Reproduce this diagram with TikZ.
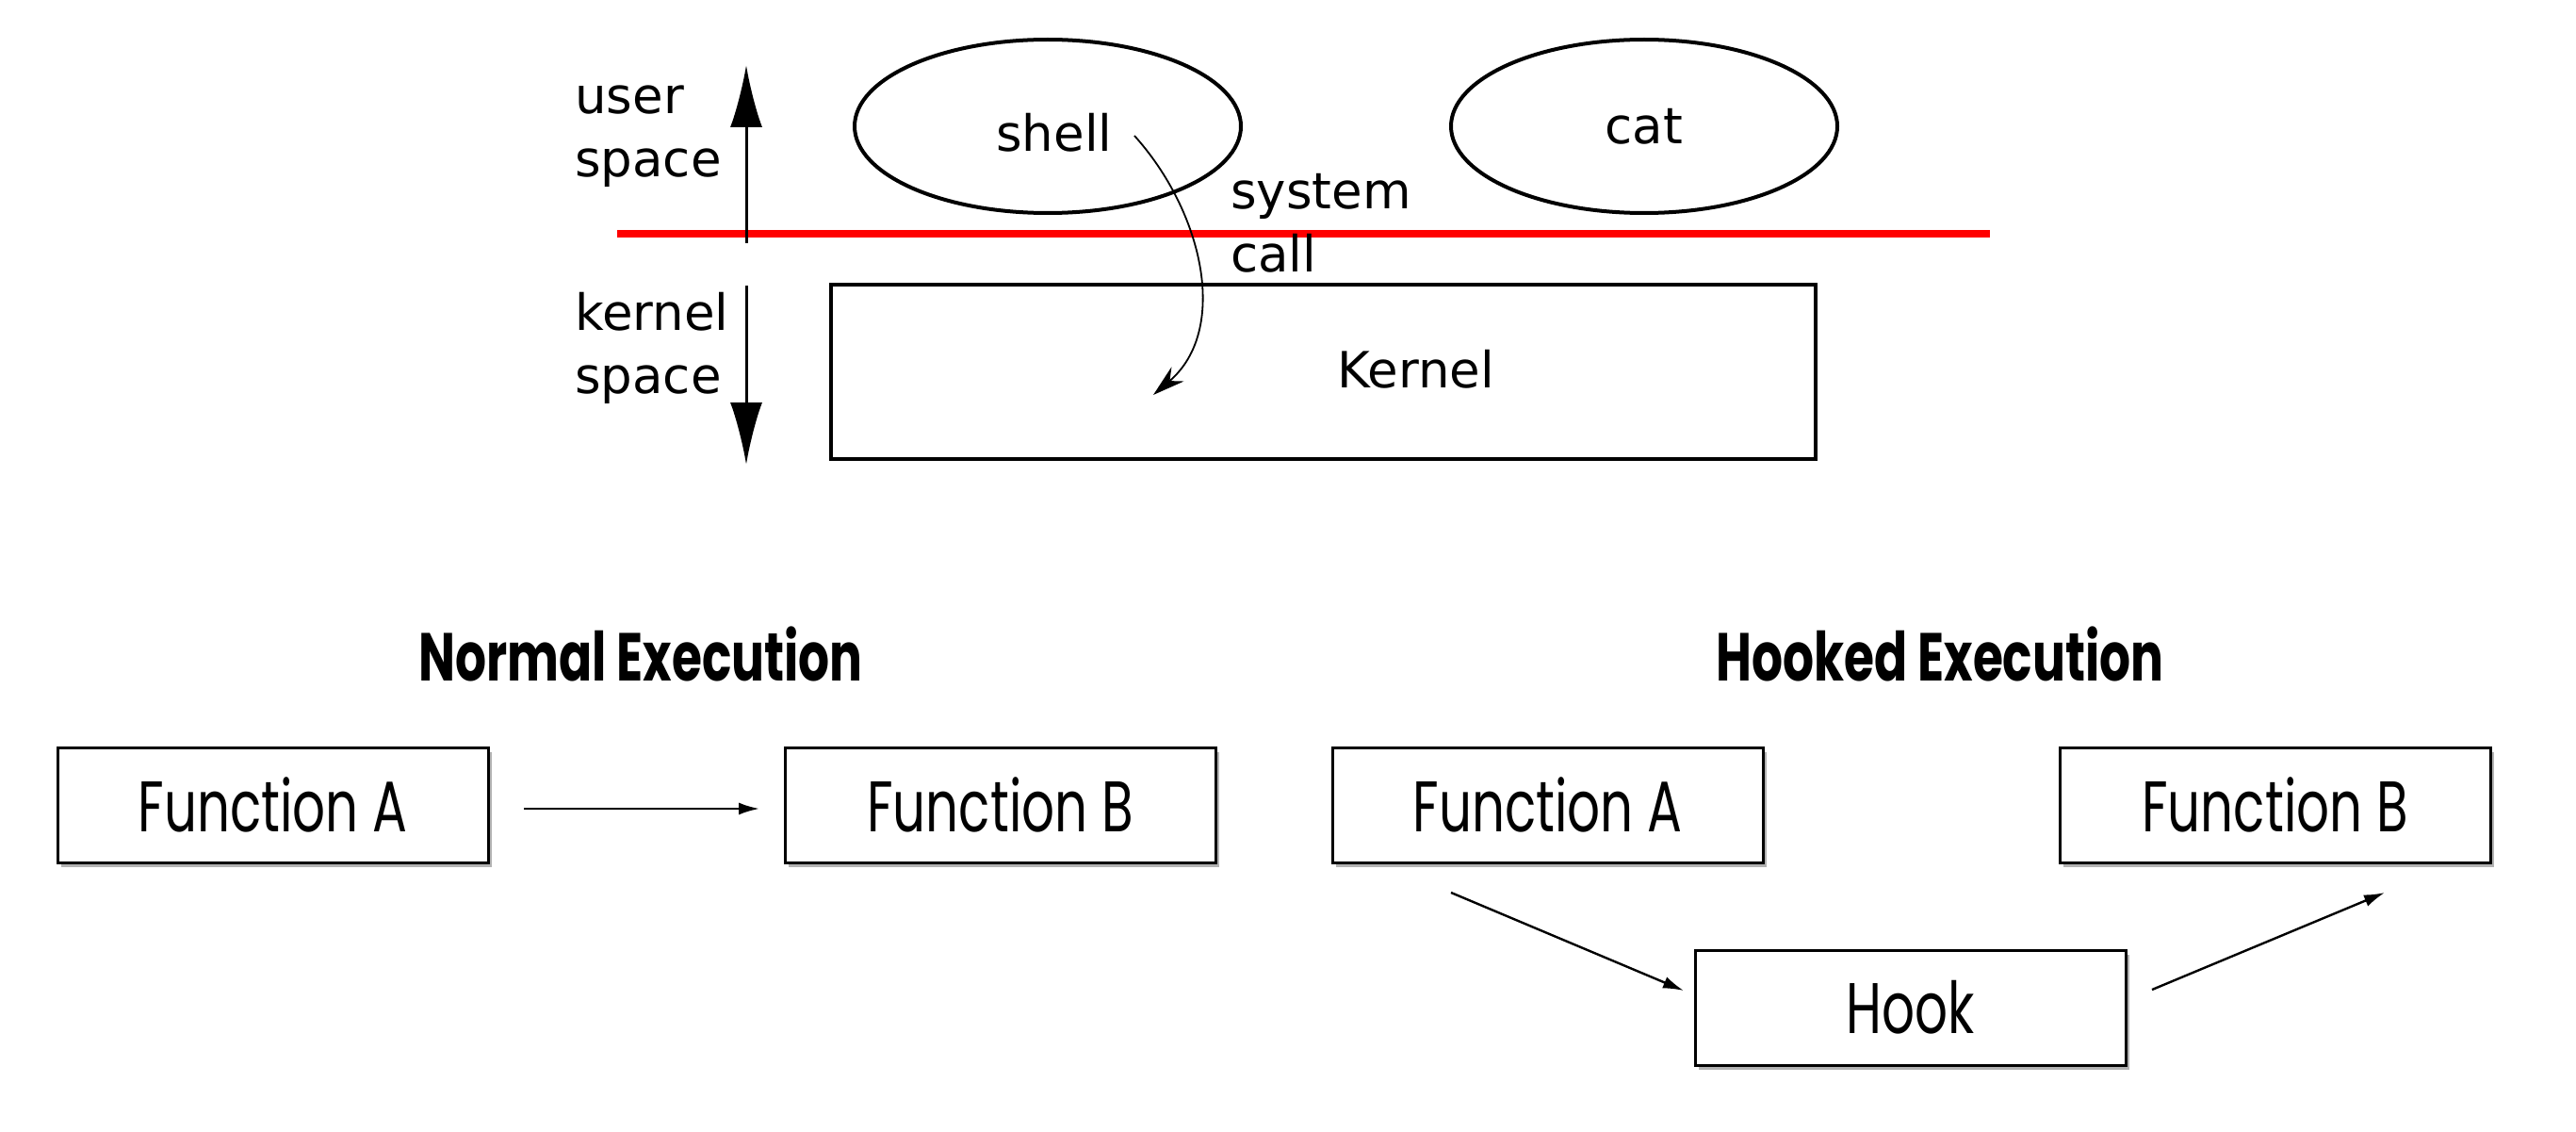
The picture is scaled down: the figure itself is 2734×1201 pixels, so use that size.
\documentclass[tikz,border=0pt]{standalone}
\usepackage{fontspec}
\setmainfont{DejaVu Sans}
\newfontfamily\fut[FakeStretch=0.72]{Poppins}
\usetikzlibrary{shapes.geometric,shadows,arrows.meta}
\begin{document}
\begin{tikzpicture}[x=1pt,y=-1pt,
  toptext/.style={font=\fontsize{53}{67}\selectfont, inner sep=0pt},
  ell/.style={ellipse, draw, line width=4pt, minimum width=410pt, minimum height=184pt, inner sep=0pt, font=\fontsize{53}{67}\selectfont},
  bigarrow/.style={line width=3pt, -{Latex[length=66pt,width=34pt]}},
  fbox/.style={draw, line width=3pt, minimum width=457pt, minimum height=122pt, inner sep=0pt, fill=white,
    drop shadow={shadow xshift=4pt, shadow yshift=-5pt, opacity=0.3, fill=black},
    font=\fut\fontsize{76}{90}\selectfont},
  heading/.style={font=\fut\bfseries\fontsize{72}{80}\selectfont, inner sep=0pt},
  conn/.style={line width=2.4pt, -{Latex[length=22pt,width=13pt]}}
]
\useasboundingbox (0,0) rectangle (2734,1201);

% ---------- top: user / kernel space ----------
\node[ell, text height=54pt, text depth=0pt] (shell) at (1112,134) {\hspace*{14pt}shell};
\node[ell] (cat) at (1745,134) {cat};
\node[draw, line width=4pt, minimum width=1045pt, minimum height=185pt, inner sep=0pt,
      text height=40pt, text depth=6pt,
      font=\fontsize{53}{67}\selectfont] (kernel) at (1404.5,394.5) {\hspace*{197pt}Kernel};

\coordinate (redL) at (655,248);
\coordinate (redR) at (2112,248);
\draw[red, line width=8pt] (redL) -- (redR);

\node[toptext, align=left, anchor=base west] (user) at (610,188) {user\\space};
\node[toptext, align=left, anchor=base west] (kspace) at (610,417) {kernel\\space};
\node[toptext, align=left, anchor=base west] (sys) at (1306,288) {system\\call};

\coordinate (upS) at (792,258);
\coordinate (upE) at (792,69);
\coordinate (dnS) at (792,303);
\coordinate (dnE) at (792,493);
\draw[bigarrow] (upS) -- (upE);
\draw[bigarrow] (dnS) -- (dnE);

\coordinate (scS) at (1204,144);
\coordinate (scE) at (1224,419);
\draw[line width=1.8pt, -{Stealth[length=34pt,width=20pt]}] (scS) .. controls (1277,225) and (1305,350) .. (scE);

% ---------- bottom: normal / hooked execution ----------
\node[heading] (hn) at (680,694) {Normal Execution};
\node[heading] (hh) at (2059,694) {Hooked Execution};

\node[fbox] (na) at (289.5,854) {Function A};
\node[fbox] (nb) at (1061.5,854) {Function B};
\node[fbox] (ha) at (1642.5,854) {Function A};
\node[fbox] (hb) at (2414.5,854) {Function B};
\node[fbox] (hk) at (2027.5,1069) {Hook};

\coordinate (n1) at (556,858);
\coordinate (n2) at (806,858);
\draw[conn] (n1) -- (n2);

\coordinate (h1) at (1540,947);
\coordinate (h2) at (1787,1051);
\coordinate (h3) at (2284,1050);
\coordinate (h4) at (2531,947);
\draw[conn] (h1) -- (h2);
\draw[conn] (h3) -- (h4);
\end{tikzpicture}
\end{document}
